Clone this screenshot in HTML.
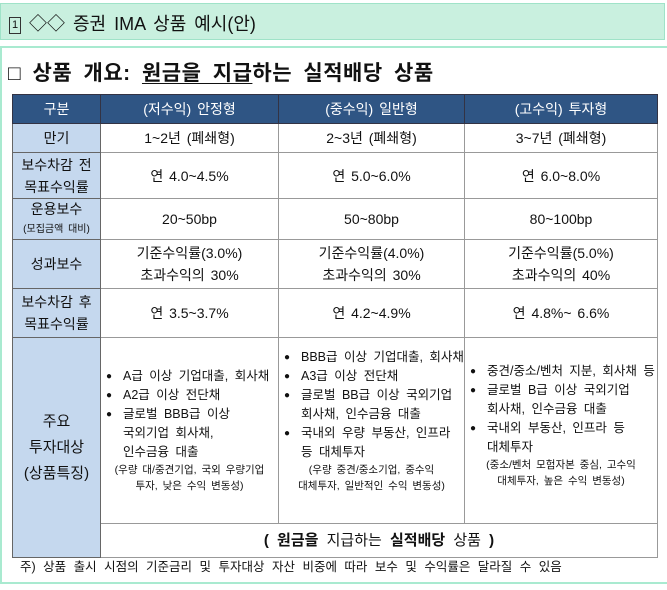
<!DOCTYPE html>
<html><head><meta charset="utf-8"><style>
body{margin:0;width:667px;height:590px;background:#fff;font-family:"Liberation Sans","Noto Sans CJK KR",sans-serif;position:relative;overflow:hidden;color:#111}
.box1{position:absolute;left:0;top:3px;width:665px;height:37px;background:#c9f0df;border:1px solid #9fe3c8;box-sizing:border-box}
.box1 span.t{position:absolute;left:8px;top:6px;font-size:18px;word-spacing:3px}
.num{display:inline-block;width:10px;height:15px;border:1px solid #333;font-size:11px;line-height:15px;text-align:center;vertical-align:2px}
.box2{position:absolute;left:0;top:46px;width:667px;height:538px;border:2px solid #a9ead0;border-right:none;box-sizing:border-box;background:#fff}
.title{position:absolute;left:8px;top:57px;font-size:21px;font-weight:bold;word-spacing:5px;letter-spacing:0.5px}
.title u{text-decoration-thickness:1px;text-underline-offset:3px}
table{position:absolute;left:12px;top:94px;width:645px;border-collapse:collapse;table-layout:fixed;font-size:14px}
td,th{border:1px solid #999;text-align:center;vertical-align:middle;padding:0;line-height:22px;word-spacing:2px}
th{background:#2f5584;color:#fff;font-weight:normal;height:28px;border-color:#334}
td.h{background:#c5d8ee;border-color:#666}
ul{margin:0;padding:0 0 0 22px;text-align:left;font-size:12.5px;line-height:19px;word-spacing:3px}
li{list-style:none;position:relative}
li:before{content:"●";position:absolute;left:-17px;font-size:10px}
.note{font-size:10.5px;line-height:16px;text-align:center;word-spacing:2px}
.foot{position:absolute;left:20px;top:556px;font-size:12.5px;word-spacing:4px}
</style></head><body>
<div class="box1"><span class="t"><span class="num">1</span> ◇◇ 증권 IMA 상품 예시(안)</span></div>
<div class="box2"></div>
<div class="title">□ 상품 개요: <u>원금을 지급</u>하는 실적배당 상품</div>
<table>
<colgroup><col style="width:88px"><col style="width:178px"><col style="width:186px"><col style="width:193px"></colgroup>
<tr><th>구분</th><th>(저수익) 안정형</th><th>(중수익) 일반형</th><th>(고수익) 투자형</th></tr>
<tr style="height:29px"><td class="h">만기</td><td>1~2년 (폐쇄형)</td><td>2~3년 (폐쇄형)</td><td>3~7년 (폐쇄형)</td></tr>
<tr style="height:46px"><td class="h">보수차감 전<br>목표수익률</td><td>연 4.0~4.5%</td><td>연 5.0~6.0%</td><td>연 6.0~8.0%</td></tr>
<tr style="height:41px"><td class="h" style="line-height:18px">운용보수<br><span style="font-size:10px">(모집금액 대비)</span></td><td>20~50bp</td><td>50~80bp</td><td>80~100bp</td></tr>
<tr style="height:49px"><td class="h">성과보수</td><td>기준수익률(3.0%)<br>초과수익의 30%</td><td>기준수익률(4.0%)<br>초과수익의 30%</td><td>기준수익률(5.0%)<br>초과수익의 40%</td></tr>
<tr style="height:49px"><td class="h">보수차감 후<br>목표수익률</td><td>연 3.5~3.7%</td><td>연 4.2~4.9%</td><td>연 4.8%~ 6.6%</td></tr>
<tr style="height:186px"><td class="h" rowspan="2" style="font-size:15px;line-height:26px">주요<br>투자대상<br>(상품특징)</td>
<td><ul><li>A급 이상 기업대출, 회사채</li><li>A2급 이상 전단채</li><li>글로벌 BBB급 이상<br>국외기업 회사채,<br>인수금융 대출</li></ul><div class="note">(우량 대/중견기업, 국외 우량기업<br>투자, 낮은 수익 변동성)</div></td>
<td style="vertical-align:top;padding-top:10px"><ul><li>BBB급 이상 기업대출, 회사채</li><li>A3급 이상 전단채</li><li>글로벌 BB급 이상 국외기업<br>회사채, 인수금융 대출</li><li>국내외 우량 부동산, 인프라<br>등 대체투자</li></ul><div class="note">(우량 중견/중소기업, 중수익<br>대체투자, 일반적인 수익 변동성)</div></td>
<td style="vertical-align:top;padding-top:24px"><ul><li>중견/중소/벤처 지분, 회사채 등</li><li>글로벌 B급 이상 국외기업<br>회사채, 인수금융 대출</li><li>국내외 부동산, 인프라 등<br>대체투자</li></ul><div class="note">(중소/벤처 모험자본 중심, 고수익<br>대체투자, 높은 수익 변동성)</div></td></tr>
<tr style="height:34px"><td colspan="3" style="font-size:15px;word-spacing:4px"><b>( 원금을</b> 지급하는 <b>실적배당</b> 상품 <b>)</b></td></tr>
</table>
<div class="foot">주) 상품 출시 시점의 기준금리 및 투자대상 자산 비중에 따라 보수 및 수익률은 달라질 수 있음</div>
</body></html>
